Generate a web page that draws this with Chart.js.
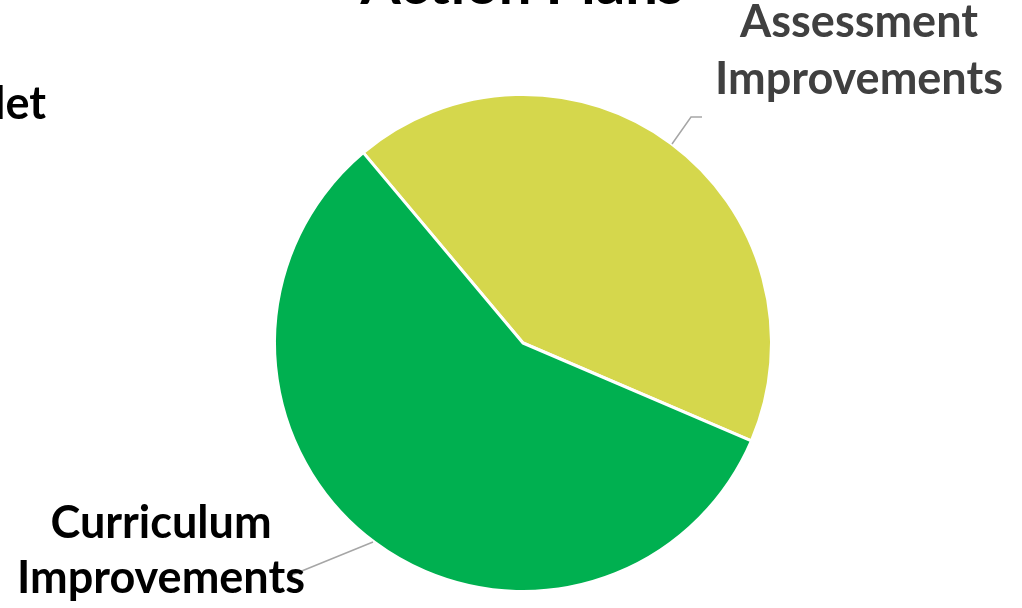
<!DOCTYPE html>
<html>
<head>
<meta charset="utf-8">
<script src="https://cdn.jsdelivr.net/npm/chart.js@4"></script>
<style>
  html, body { margin: 0; padding: 0; background: #fff; }
  #wrap { width: 1022px; height: 608px; position: relative; }
</style>
</head>
<body>
<div id="wrap"><canvas id="actionPie"></canvas></div>
<script>
// Slices of the pie (first one is empty, only its label shows at the left edge)
const categories = ['let', 'Assessment Improvements', 'Curriculum Improvements'];
const counts = [0, 20, 27];
const sliceColors = ['#7F7F7F', '#D5D74C', '#00B050'];
const labelColors = ['#000000', '#404040', '#000000'];
const titleText = 'Action Plans';

const FONT = 'Lato, "Open Sans", sans-serif';

// Draws the cropped title, the data labels and their leader lines
const labelPlugin = {
    id: 'sliceLabels',
    afterDatasetsDraw(chart) {
        const ctx = chart.ctx;
        const arcs = chart.getDatasetMeta(0).data;
        const cx = arcs[1].x, cy = arcs[1].y;

        ctx.save();
        ctx.fillStyle = '#000';
        ctx.font = 'bold 58px ' + FONT;
        ctx.textAlign = 'center';
        ctx.textBaseline = 'alphabetic';
        ctx.fillText(titleText, cx - 1, 4);

        // leader lines
        ctx.strokeStyle = '#A6A6A6';
        ctx.lineWidth = 1.5;
        ctx.beginPath();
        ctx.moveTo(cx + 149, cy - 199);
        ctx.lineTo(cx + 168, cy - 226);
        ctx.lineTo(cx + 179, cy - 226);
        ctx.moveTo(cx - 150, cy + 199);
        ctx.lineTo(cx - 236, cy + 234);
        ctx.stroke();

        ctx.font = 'bold 45px ' + FONT;
        ctx.textBaseline = 'alphabetic';

        // empty slice label, cut by the left edge
        ctx.textAlign = 'right';
        ctx.fillStyle = labelColors[0];
        ctx.fillText(categories[0], cx - 477, cy - 224);

        // Assessment Improvements
        ctx.textAlign = 'center';
        ctx.fillStyle = labelColors[1];
        const a = categories[1].split(' ');
        ctx.fillText(a[0], cx + 336, cy - 306);
        ctx.fillText(a[1], cx + 336, cy - 249);

        // Curriculum Improvements
        ctx.fillStyle = labelColors[2];
        const c = categories[2].split(' ');
        ctx.fillText(c[0], cx - 362, cy + 195);
        ctx.fillText(c[1], cx - 362, cy + 250);
        ctx.restore();
    }
};

const ctx = document.getElementById('actionPie').getContext('2d');
const pie = new Chart(ctx, {
    type: 'pie',
    data: {
        labels: categories,
        datasets: [{
            data: counts,
            backgroundColor: sliceColors,
            borderColor: '#FFFFFF',
            borderWidth: 3
        }]
    },
    options: {
        responsive: true,
        maintainAspectRatio: false,
        animation: false,
        rotation: -40,
        layout: { padding: { left: 273, right: 249, top: 93, bottom: 15 } },
        plugins: {
            legend: { display: false },
            title: { display: false },
            tooltip: { enabled: false }
        }
    },
    plugins: [labelPlugin]
});
</script>
</body>
</html>
